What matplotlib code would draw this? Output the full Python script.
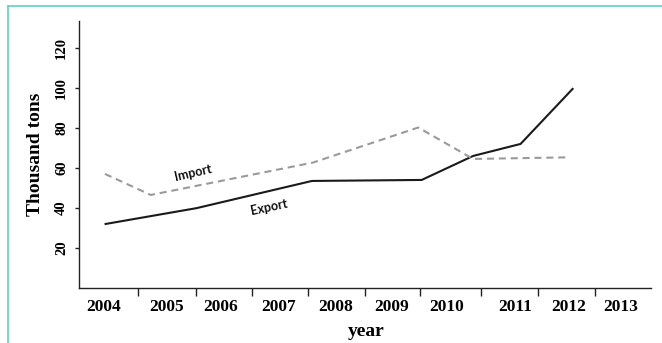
import matplotlib
matplotlib.use("Agg")
import matplotlib.pyplot as plt
from matplotlib.lines import Line2D

# Data (x in year units)
export_x = [2004.01, 2005.60, 2007.62, 2009.54, 2010.44, 2011.27, 2012.18]
export_y = [32.1, 40.0, 53.6, 54.1, 66.1, 72.1, 99.6]
import_x = [2004.00, 2004.80, 2007.64, 2009.48, 2010.44, 2012.11]
import_y = [57.1, 46.6, 62.8, 80.3, 64.6, 65.4]

year_labels = ["2004", "2005", "2006", "2007", "2008",
               "2009", "2010", "2011", "2012", "2013"]
year_label_pos = [2003.98, 2005.085, 2006.03, 2007.03, 2008.04,
                  2009.02, 2009.98, 2011.17, 2012.12, 2013.03]
year_tick_pos = [2004.572, 2005.587, 2006.577, 2007.551, 2008.556,
                 2009.506, 2010.578, 2011.568, 2012.572]
y_ticks = [20, 40, 60, 80, 100, 120]

serif = "Liberation Serif"

fig = plt.figure(figsize=(6.62, 3.43), dpi=100)
ax = fig.add_axes([0.1198, 0.1598, 0.8636, 0.7799])

# Lines
ax.plot(export_x, export_y, color="#1a1a1a", lw=1.5, solid_joinstyle="miter")
imp, = ax.plot(import_x, import_y, color="#9a9a9a", lw=1.5, ls="--")
imp.set_dashes((3.4, 2.3))

# Line labels
ax.text(2005.545, 57.75, "Import", rotation=13, ha="center", va="center",
        family="Lato", fontweight="bold", fontsize=9, color="#111111")
ax.text(2006.874, 40.45, "Export", rotation=12, ha="center", va="center",
        family="Lato", fontweight="bold", fontsize=9, color="#111111")

# Axes limits and spines
ax.set_xlim(2003.55, 2013.552)
ax.set_ylim(0, 133.7)
for s in ["top", "right"]:
    ax.spines[s].set_visible(False)
for s in ["left", "bottom"]:
    ax.spines[s].set_linewidth(1.0)
    ax.spines[s].set_color("#222222")

# x axis: labels at their own spots, tick marks in between
ax.set_xticks(year_label_pos)
ax.set_xticklabels(year_labels, family=serif, fontweight="bold", fontsize=12.5)
ax.tick_params(axis="x", which="major", length=0, pad=8)
ax.set_xticks(year_tick_pos, minor=True)
ax.tick_params(axis="x", which="minor", length=5.5, width=1.0,
               color="#222222", direction="out")

# y axis
ax.set_yticks(y_ticks)
ax.set_yticklabels([str(v) for v in y_ticks], family=serif,
                   fontweight="bold", fontsize=10.5, rotation=90, va="center")
ax.tick_params(axis="y", length=3, width=1.0, color="#222222", pad=5)

ax.set_ylabel("Thousand tons", family=serif, fontweight="bold", fontsize=14,
              va="center")
ax.yaxis.set_label_coords(-0.076, 0.5)
ax.set_xlabel("year", family=serif, fontweight="bold", fontsize=14,
              va="center")
ax.xaxis.set_label_coords(0.501, -0.162)

# Teal frame around the figure
x0 = 8 / 662
ytop = (343 - 5.7) / 343
fig.add_artist(Line2D([x0, x0], [0, ytop], transform=fig.transFigure,
                      color="#5fd1c1", lw=1.2))
fig.add_artist(Line2D([x0, 1], [ytop, ytop], transform=fig.transFigure,
                      color="#5fd1c1", lw=1.2))

fig.savefig("out.png", dpi=100)
